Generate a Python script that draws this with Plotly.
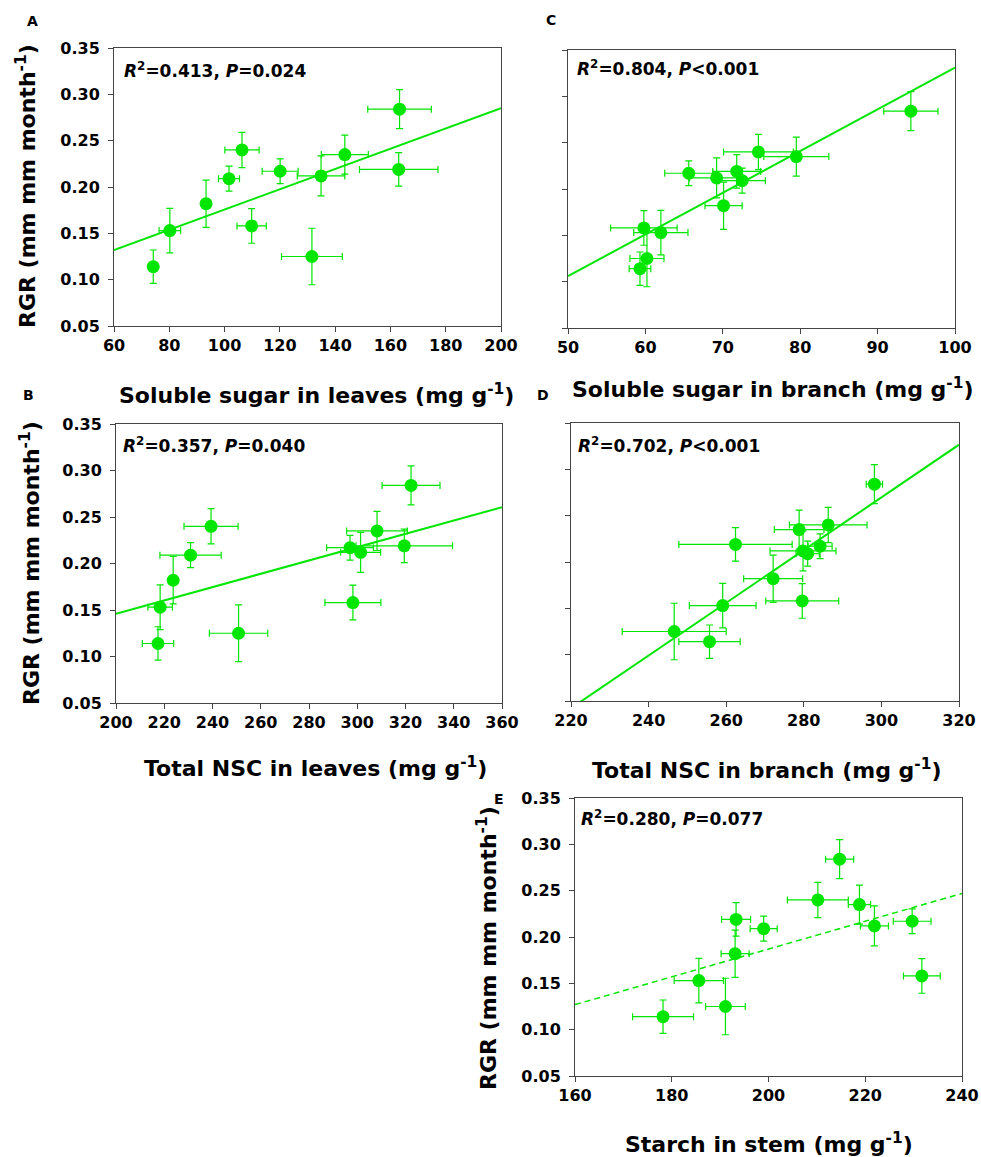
import plotly.graph_objects as go

W, H = 981, 1157
GREEN = "#00e600"
LINE_GREEN = "#00e600"
FONT = "DejaVu Sans"
AXC = "#444444"

# ---- data (12 sites, same order in every panel) ----
rgr = [0.114, 0.153, 0.182, 0.209, 0.240, 0.158, 0.217, 0.125, 0.212, 0.235, 0.284, 0.219]
rgr_err = [0.018, 0.024, 0.0255, 0.0135, 0.019, 0.0187, 0.0133, 0.0305, 0.0215, 0.021, 0.021, 0.018]

sugar_leaves = [74.2, 80.2, 93.3, 101.6, 106.3, 109.8, 120.1, 131.6, 134.9, 143.5, 163.3, 163.0]
sugar_leaves_err = [1.5, 3.9, 1.0, 3.8, 6.2, 5.3, 6.5, 11.0, 8.6, 8.5, 11.5, 14.2]

nsc_leaves = [217.4, 218.3, 223.7, 230.9, 239.4, 298.2, 297.0, 250.8, 301.4, 308.2, 322.3, 319.5]
nsc_leaves_err = [6.5, 5.1, 1.5, 12.7, 11.2, 11.6, 9.7, 12.1, 8.3, 12.6, 12.0, 20.0]

sugar_branch = [59.3, 62.0, 70.1, 72.5, 74.6, 59.8, 65.6, 60.2, 69.2, 79.5, 94.3, 71.8]
sugar_branch_err = [1.4, 3.5, 2.4, 3.0, 4.5, 4.3, 3.1, 2.2, 3.5, 4.2, 3.5, 3.1]

nsc_branch = [255.7, 259.1, 272.1, 281.0, 286.3, 279.6, 284.2, 246.6, 279.8, 278.8, 298.2, 262.4]
nsc_branch_err = [7.9, 8.6, 7.6, 3.0, 10.0, 9.4, 3.1, 13.4, 8.5, 6.4, 2.1, 14.6]

starch_stem = [178.2, 185.6, 193.1, 199.0, 210.2, 231.7, 229.7, 191.1, 221.9, 218.8, 214.7, 193.3]
starch_stem_err = [6.3, 5.1, 2.9, 2.8, 6.3, 3.8, 3.9, 4.1, 2.9, 2.3, 2.9, 3.0]

# regression lines (end points)
fit_A_x, fit_A_y = [60, 200], [0.132, 0.285]
fit_B_x, fit_B_y = [200, 360], [0.146, 0.2605]
fit_C_x, fit_C_y = [50, 100], [0.106, 0.331]
fit_D_x, fit_D_y = [220, 320], [0.0422, 0.3266]
fit_E_x, fit_E_y = [160, 240], [0.127, 0.247]

stats = {
    "A": "<b><i>R</i><sup>2</sup>=0.413, <i>P</i>=0.024</b>",
    "B": "<b><i>R</i><sup>2</sup>=0.357, <i>P</i>=0.040</b>",
    "C": "<b><i>R</i><sup>2</sup>=0.804, <i>P</i>&lt;0.001</b>",
    "D": "<b><i>R</i><sup>2</sup>=0.702, <i>P</i>&lt;0.001</b>",
    "E": "<b><i>R</i><sup>2</sup>=0.280, <i>P</i>=0.077</b>",
}
xtitles = {
    "A": "Soluble sugar in leaves (mg g<sup>-1</sup>)",
    "B": "Total NSC in leaves (mg g<sup>-1</sup>)",
    "C": "Soluble sugar in branch (mg g<sup>-1</sup>)",
    "D": "Total NSC in branch (mg g<sup>-1</sup>)",
    "E": "Starch in stem (mg g<sup>-1</sup>)",
}
ytitle = "RGR (mm mm month<sup>-1</sup>)"

# ---- layout geometry (pixels) ----
panels = {
    # key: (axis index, x0, x1, y0(top), y1(bottom), xrange, dtick, show y labels)
    "A": (1, 114, 501, 48, 326, [60, 200], 20, True),
    "C": (2, 568, 955, 50, 328, [50, 100], 10, False),
    "B": (3, 116, 502, 424, 703, [200, 360], 20, True),
    "D": (4, 571, 959, 423, 701, [220, 320], 20, False),
    "E": (5, 575, 962, 798, 1076, [160, 240], 20, True),
}
data_map = {
    "A": (sugar_leaves, sugar_leaves_err, fit_A_x, fit_A_y, "solid"),
    "B": (nsc_leaves, nsc_leaves_err, fit_B_x, fit_B_y, "solid"),
    "C": (sugar_branch, sugar_branch_err, fit_C_x, fit_C_y, "solid"),
    "D": (nsc_branch, nsc_branch_err, fit_D_x, fit_D_y, "solid"),
    "E": (starch_stem, starch_stem_err, fit_E_x, fit_E_y, "dash"),
}
# annotation positions (pixels)
xtitle_pos = {"A": (316, 394), "C": (773, 388), "B": (315, 767), "D": (766, 769), "E": (769, 1143)}
ytitle_pos = {"A": (26, 186), "B": (30, 563), "E": (487, 948)}
letter_pos = {"A": (32, 21), "B": (28, 395), "C": (551, 20), "D": (543, 395), "E": (499, 799)}
stat_pos = {"A": (122, 70), "C": (575, 68), "B": (121, 445), "D": (576, 445), "E": (579, 818)}


def px(x):
    return x / W


def py(y):
    return 1 - y / H


fig = go.Figure()
layout = dict(
    width=W, height=H, margin=dict(l=0, r=0, t=0, b=0, autoexpand=False),
    paper_bgcolor="white", plot_bgcolor="white", showlegend=False,
    font=dict(family=FONT, color="black"),
)
annotations = []

tickfont = dict(family=FONT, size=16, color="black", weight="bold")

for key, (i, x0, x1, yt, yb, xr, dt, showy) in panels.items():
    xs, xe, fx, fy, dash = data_map[key]
    sfx = "" if i == 1 else str(i)
    xa, ya = "x" + sfx, "y" + sfx
    fig.add_trace(go.Scatter(
        x=fx, y=fy, mode="lines", xaxis=xa, yaxis=ya,
        line=dict(color=LINE_GREEN, width=2 if dash == "solid" else 1.5,
                  dash="solid" if dash == "solid" else "6px,4px"),
        hoverinfo="skip"))
    fig.add_trace(go.Scatter(
        x=xs, y=rgr, mode="markers", xaxis=xa, yaxis=ya,
        marker=dict(color=GREEN, size=13, line=dict(width=0)),
        error_x=dict(type="data", array=xe, color=GREEN, thickness=1.2, width=3.5),
        error_y=dict(type="data", array=rgr_err, color=GREEN, thickness=1.2, width=3.5),
    ))
    common = dict(showline=True, mirror=True, linecolor=AXC, linewidth=1,
                  ticks="outside", ticklen=5, tickcolor=AXC, tickwidth=1,
                  showgrid=False, zeroline=False, tickfont=tickfont, automargin=False)
    layout["xaxis" + sfx] = dict(common, domain=[px(x0), px(x1)], range=xr,
                                 dtick=dt, tick0=xr[0], anchor=ya,
                                 ticklabelstandoff=0)
    layout["yaxis" + sfx] = dict(common, domain=[py(yb), py(yt)], range=[0.05, 0.35],
                                 dtick=0.05, tick0=0.05, tickformat=".2f", anchor=xa,
                                 showticklabels=showy, ticklabelstandoff=5)

    tx, ty = xtitle_pos[key]
    annotations.append(dict(text="<b>" + xtitles[key] + "</b>", x=px(tx), y=py(ty),
                            xref="paper", yref="paper", xanchor="center", yanchor="middle",
                            showarrow=False, font=dict(family=FONT, size=22, color="black")))
    if key in ytitle_pos:
        ux, uy = ytitle_pos[key]
        annotations.append(dict(text="<b>" + ytitle + "</b>", x=px(ux), y=py(uy),
                                xref="paper", yref="paper", xanchor="center", yanchor="middle",
                                textangle=-90, showarrow=False,
                                font=dict(family=FONT, size=22, color="black")))
    lx, ly = letter_pos[key]
    annotations.append(dict(text="<b>" + key + "</b>", x=px(lx), y=py(ly),
                            xref="paper", yref="paper", xanchor="center", yanchor="middle",
                            showarrow=False, font=dict(family=FONT, size=14, color="black")))
    sx, sy = stat_pos[key]
    annotations.append(dict(text=stats[key], x=px(sx), y=py(sy),
                            xref="paper", yref="paper", xanchor="left", yanchor="middle",
                            showarrow=False, font=dict(family=FONT, size=17, color="black")))

layout["annotations"] = annotations
fig.update_layout(**layout)
fig.write_html("out.html")
